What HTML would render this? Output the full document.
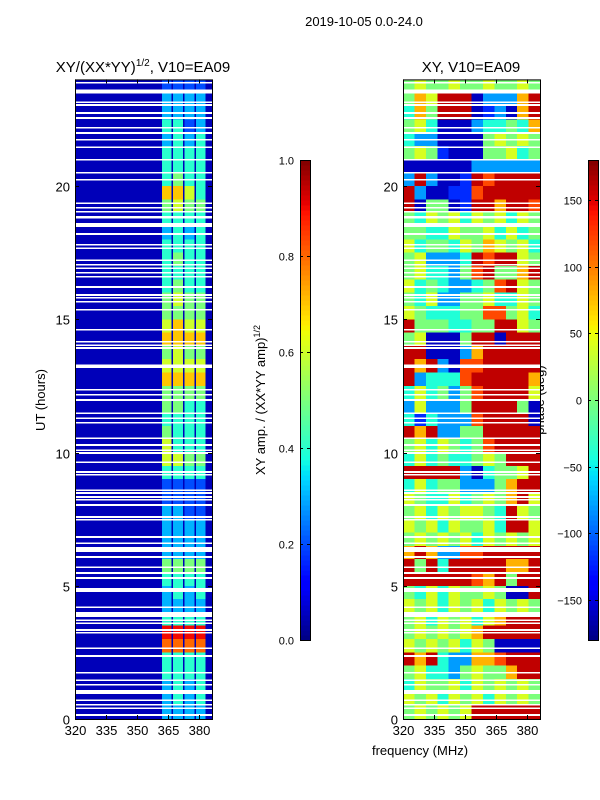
<!DOCTYPE html>
<html><head><meta charset="utf-8">
<style>
body{margin:0;background:#fff;}
svg{display:block;font-family:"Liberation Sans",sans-serif;}
text{fill:#000;}
</style></head>
<body>
<svg id="fig" width="600" height="800" xmlns="http://www.w3.org/2000/svg">
<rect width="600" height="800" fill="#fff"/>
<text x="364" y="26" font-size="13" text-anchor="middle">2019-10-05 0.0-24.0</text>
<text x="143" y="72" font-size="15" text-anchor="middle">XY/(XX*YY)<tspan dy="-6" font-size="10">1/2</tspan><tspan dy="6">, V10=EA09</tspan></text>
<text x="471" y="72" font-size="15" text-anchor="middle">XY, V10=EA09</text>
<text transform="translate(45,400) rotate(-90)" font-size="13" text-anchor="middle">UT (hours)</text>
<text x="420" y="755" font-size="13" text-anchor="middle">frequency (MHz)</text>
<text transform="translate(265,400) rotate(-90)" font-size="13" text-anchor="middle">XY amp. / (XX*YY amp)<tspan dy="-5" font-size="9">1/2</tspan></text>
<text transform="translate(544,400) rotate(-90)" font-size="13" text-anchor="middle">phase (deg)</text>
<g id="layer"></g>
</svg>
<script>
// ---- data ----
const ampFreqBins = [362, 367.5, 373, 378.5, 384];
// rows from 24h (top) down to 0h, 0.5h each; digits = amplitude*10 for each bright column
const ampRows = ["2222","3333","3333","4423","3434","4444","4444","4544","7764","5655","4444","3434",
"4444","4544","4444","4544","5655","5555","6766","7777","5655","6666","7777","5555",
"5544","4444","5444","6444","6655","4444","2222","2222","3322","3333","3333","3333",
"5555","4444","3434","3333","4444","9999","8888","4444","4444","3434","3434","3333"];
const ampBackground = 0.05;
// phase: 12 bins 320..386 MHz, digit d -> phase -160+40*d
const phaseRows = ["454454454454","465888022268","364888012068","453000233436","322000045454","454100044534",
"000000222222","282001878888","820011788888","804401886887","435453545354","443354453534",
"534435465453","452223878854","453324784468","534322347854","435224453354","543334477453",
"844433448854","450004880888","880002688888","868207788888","823337888886","353424788885",
"252224888840","313222788880","868224488888","453543478888","353433454888","888882034458",
"353442224688","543353454685","453545543854","545354453885","454545354545","686227788888",
"848388888668","888888768488","435354454008","545354535454","453545356888","454545688888",
"545453540000","868322667888","453324544688","354453545454","545354535454","454545888888"];
// flagged (white) time ranges in hours
const flags = [[23.84,23.9],[23.48,23.62],[23.12,23.18],[23.01,23.07],[22.71,22.77],[22.52,22.58],[22.15,22.21],[21.96,22.02],
[21.7,21.76],[21.43,21.49],[20.95,21.01],[20.46,20.52],[20.2,20.26],[19.33,19.39],[19.15,19.21],[19.0,19.06],[18.78,18.87],
[18.46,18.61],[18.17,18.23],[17.76,17.82],[17.64,17.7],[17.19,17.25],[17.01,17.07],[16.89,16.95],[16.71,16.77],[16.56,16.62],
[16.18,16.24],[15.88,15.94],[15.77,15.83],[15.62,15.68],[15.32,15.38],[14.57,14.63],[14.12,14.18],[14.0,14.06],[13.89,13.95],
[13.25,13.31],[13.18,13.24],[12.32,12.38],[12.13,12.19],[11.94,12.0],[11.45,11.51],[11.26,11.32],[11.08,11.14],[10.51,10.57],
[10.25,10.31],[10.06,10.12],[9.95,10.01],[9.61,9.67],[9.24,9.3],[9.13,9.19],[8.56,8.62],[8.45,8.51],[8.3,8.36],[8.19,8.25],
[8.0,8.06],[7.55,7.61],[7.44,7.5],[6.8,6.86],[6.57,6.63],[6.27,6.45],[6.05,6.11],[5.67,5.73],[5.45,5.51],[5.26,5.32],
[4.77,4.92],[4.17,4.23],[3.83,4.01],[3.68,3.74],[3.57,3.63],[3.31,3.37],[3.2,3.26],[2.63,2.69],[2.33,2.4],[1.7,1.76],
[1.43,1.49],[1.25,1.31],[0.94,1.09],[0.68,0.74],[0.5,0.56],[0.38,0.44],[0.12,0.18]];
const xTicks = [320,335,350,365,380];
const yTicks = [0,5,10,15,20];
const ampTicks = [0.0,0.2,0.4,0.6,0.8,1.0];
const phaseTicks = [-150,-100,-50,0,50,100,150];

// ---- geometry ----
const NS="http://www.w3.org/2000/svg";
const layer=document.getElementById('layer');
const Y0=719, PXH=26.65;
const yS=t=>Y0-t*PXH;
const panels=[{x0:75,name:'amp'},{x0:403,name:'phase'}];
const FMIN=320, FMAX=386.3, PW=137;
function mk(tag,attrs,parent){const e=document.createElementNS(NS,tag);for(const k in attrs)e.setAttribute(k,attrs[k]);(parent||layer).appendChild(e);return e;}
function seg(pts,v){for(let i=1;i<pts.length;i++){if(v<=pts[i][0]){const a=pts[i-1],b=pts[i];return a[1]+(b[1]-a[1])*(v-a[0])/(b[0]-a[0]);}}return pts[pts.length-1][1];}
const JR=[[0,0],[0.35,0],[0.66,1],[0.89,1],[1,0.5]];
const JG=[[0,0],[0.125,0],[0.375,1],[0.64,1],[0.91,0],[1,0]];
const JB=[[0,0.5],[0.11,1],[0.34,1],[0.65,0],[1,0]];
function jet(v){v=Math.max(0,Math.min(1,v));
 return `rgb(${Math.round(seg(JR,v)*255)},${Math.round(seg(JG,v)*255)},${Math.round(seg(JB,v)*255)})`;}

panels.forEach((p,pi)=>{
 const xS=f=>p.x0+(f-FMIN)/(FMAX-FMIN)*PW;
 const g=mk('g',{'shape-rendering':'crispEdges'});
 
 
 const nR=ampRows.length, dh=24/nR;
 if(pi===0){
  const bg=mk('rect',{x:xS(FMIN),y:yS(24),width:PW,height:Y0-yS(24),fill:jet(ampBackground)},g);
  
  
 }
 for(let r=0;r<nR;r++){
  const t1=24-r*dh, t0=t1-dh;
  if(pi===0){
   for(let c=0;c<4;c++){
    const v=+ampRows[r][c]/10;
    const cell=mk('rect',{x:xS(ampFreqBins[c]),y:yS(t1),width:xS(ampFreqBins[c+1])-xS(ampFreqBins[c])-1.5,height:yS(t0)-yS(t1)+0.5,fill:jet(v)},g);
    
    
   }
  } else {
   const nC=phaseRows[r].length, df=(FMAX-FMIN)/nC;
   for(let c=0;c<nC;c++){
    const ph=-160+40*(+phaseRows[r][c]);
    const cell=mk('rect',{x:xS(FMIN+c*df),y:yS(t1),width:xS(FMIN+(c+1)*df)-xS(FMIN+c*df)+0.5,height:yS(t0)-yS(t1)+0.5,fill:jet((ph+180)/360)},g);
    
    
   }
  }
 }
 flags.forEach(f=>{
  const fl=mk('rect',{x:p.x0,y:yS(f[1]),width:PW,height:Math.max(1.5,yS(f[0])-yS(f[1])),fill:'#fff'},g);
  
  
 });
 const fr=mk('rect',{x:p.x0+0.5,y:yS(24)+0.5,width:PW,height:Y0-yS(24),fill:'none',stroke:'#000','stroke-width':1});
 
 
 xTicks.forEach(v=>{
  const x=Math.round(xS(v))+0.5;
  mk('line',{x1:x,x2:x,y1:Y0,y2:Y0-4,stroke:'#000'});
  mk('line',{x1:x,x2:x,y1:yS(24),y2:yS(24)+4,stroke:'#000'});
  const tl=mk('text',{x:x,y:Y0+16,'font-size':13,'text-anchor':'middle'});
  tl.textContent=v;
  
  
 });
 yTicks.forEach(v=>{
  const y=Math.round(yS(v))+0.5;
  mk('line',{x1:p.x0,x2:p.x0+4,y1:y,y2:y,stroke:'#000'});
  mk('line',{x1:p.x0+PW,x2:p.x0+PW-4,y1:y,y2:y,stroke:'#000'});
  const tl=mk('text',{x:p.x0-5,y:y+5,'font-size':13,'text-anchor':'end'});
  tl.textContent=v;
  
  
 });
});

// colorbars
function colorbar(x0,vmin,vmax,ticks,name,fmt){
 const top=160,bot=640,w=10;
 const g=mk('g',{'shape-rendering':'crispEdges'});
 
 
 const n=96;
 for(let i=0;i<n;i++){
  const y=bot-(i+1)*(bot-top)/n;
  mk('rect',{x:x0,y:y,width:w,height:(bot-top)/n+0.5,fill:jet((i+0.5)/n)},g);
 }
 mk('rect',{x:x0+0.5,y:top+0.5,width:w,height:bot-top,fill:'none',stroke:'#000'},g);
 ticks.forEach(v=>{
  const y=Math.round(bot-(v-vmin)/(vmax-vmin)*(bot-top))+0.5;
  mk('line',{x1:x0,x2:x0+3,y1:y,y2:y,stroke:'#000'},g);
  mk('line',{x1:x0+w,x2:x0+w-3,y1:y,y2:y,stroke:'#000'},g);
  const tl=mk('text',{x:x0-6,y:y+4,'font-size':11,'text-anchor':'end'},g);
  tl.textContent=fmt(v);
  
  
 });
}
colorbar(300,0,1,ampTicks,'amp-colorbar',v=>v.toFixed(1));
colorbar(588,-180,180,phaseTicks,'phase-colorbar',v=>v<0?'\u2212'+Math.abs(v):String(v));
</script>
</body></html>
